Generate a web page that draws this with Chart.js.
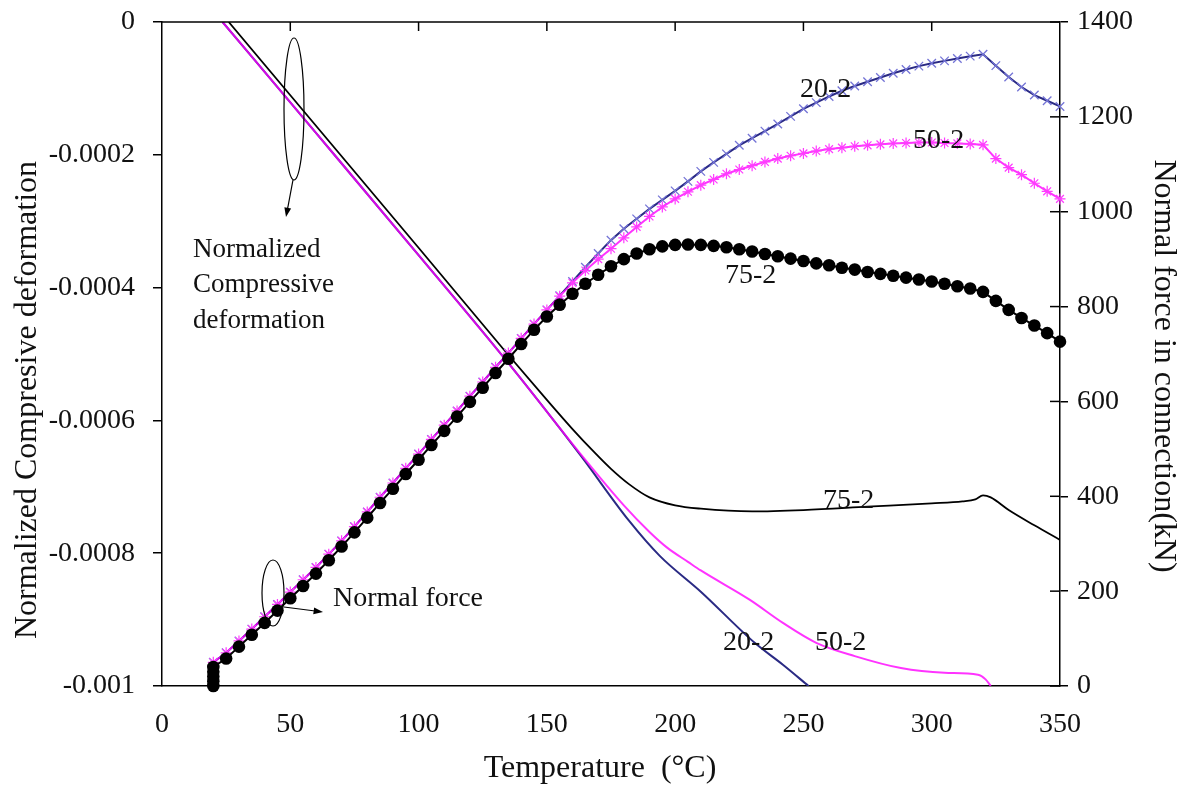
<!DOCTYPE html>
<html>
<head>
<meta charset="utf-8">
<script src="https://cdn.jsdelivr.net/npm/chart.js@4.4.1/dist/chart.umd.min.js"></script>
<style>
  body { margin: 0; background: #fff; }
  canvas { display: block; }
</style>
</head>
<body>
<canvas id="chart" width="1186" height="791"></canvas>
<script>
// temperatures (°C) where the force markers sit
const tempF = [20,25,30,35,40,45,50,55,60,65,70,75,80,85,90,95,100,105,110,115,120,125,130,135,140,145,150,
  155,160,165,170,175,180,185,190,195,200,205,210,215,220,225,230,235,240,245,250,
  255,260,265,270,275,280,285,290,295,300,305,310,315,320,325,330,335,340,345,350];

// normal force in connection (kN), right axis
const force20 = [50,70,95,120,146,172,198,224,250,278,306,336,367,398,428,459,489,520,550,580,611,641,672,702,733,763,793,
  823,853,883,912,940,964,985,1006,1025,1044,1064,1085,1104,1122,1140,1155,1170,1185,1201,1217,
  1230,1243,1255,1265,1274,1283,1292,1300,1307,1313,1318,1323,1328,1332,1308,1284,1263,1246,1234,1222];
const force50 = [50,70,95,120,146,172,198,224,250,278,306,336,367,398,428,459,489,520,550,580,611,641,672,702,733,763,793,
  822,850,876,900,922,945,968,990,1010,1027,1042,1056,1068,1080,1089,1097,1105,1112,1118,1123,
  1128,1132,1135,1138,1140,1142,1144,1145,1146,1146,1145,1144,1143,1141,1112,1093,1078,1060,1043,1027];
const force75 = [40,58,83,108,133,159,185,211,237,265,294,324,355,386,416,447,477,508,538,568,599,629,660,690,721,751,779,
  804,827,848,867,885,900,912,921,927,930,931,930,928,925,921,916,911,906,901,896,
  891,887,882,878,873,869,865,861,857,853,848,843,838,831,812,793,776,760,744,726];
// loading stage of 75-2 at 20 °C
const loadT75 = [20,20,20,20];
const loadF75 = [0,10,20,30];

// normalized compressive deformation, left axis
const defT20 = [23.6,60,100,134,163,182,194,210,231,242,252];
const def20 = [0,-0.000167,-0.000351,-0.000509,-0.000652,-0.000751,-0.000804,-0.000858,-0.000935,-0.000968,-0.001];
const defT50 = [23.6,60,100,134,163,180,190,197,205,210,229,242,255,270,288,305,318,321,323];
const def50 = [0,-0.000167,-0.000351,-0.000509,-0.00065,-0.000728,-0.000768,-0.000792,-0.000813,-0.000826,-0.00087,-0.000905,-0.000935,-0.000955,-0.000973,-0.00098,-0.000983,-0.00099,-0.001];
const defT75 = [26,100,134,150,160,168,175,182,190,200,210,230,250,275,300,312,317,320,323,330,340,350];
const def75 = [0,-0.00034,-0.000497,-0.000569,-0.000613,-0.000646,-0.000673,-0.000696,-0.000716,-0.000728,-0.000733,-0.000737,-0.000735,-0.00073,-0.000725,-0.000722,-0.000719,-0.000713,-0.000716,-0.000735,-0.000758,-0.00078];

const xTicks = [0,50,100,150,200,250,300,350];
const leftTicks = [0,-0.0002,-0.0004,-0.0006,-0.0008,-0.001];
const leftTickLabels = ['0','-0.0002','-0.0004','-0.0006','-0.0008','-0.001'];
const rightTicks = [0,200,400,600,800,1000,1200,1400];

const NAVY = '#2a2a84';
const NAVY_MK = '#7474d6';
const MAG = 'rgba(255,0,255,0.8)';
const MAG_MK = '#ff3cff';
const SERIF = '"Liberation Serif", "Times New Roman", serif';

const pts = (xs, ys) => xs.map((x, i) => ({ x, y: ys[i] }));

const defStyle = (color, order) => ({
  borderColor: color,
  borderWidth: 2,
  pointRadius: 0,
  cubicInterpolationMode: 'monotone',
  yAxisID: 'y',
  order,
});

const datasets = [
  { label: '20-2 deformation', data: pts(defT20, def20), ...defStyle(NAVY, 6) },
  { label: '50-2 deformation', data: pts(defT50, def50), ...defStyle(MAG, 5) },
  { label: '75-2 deformation', data: pts(defT75, def75), ...defStyle('#000', 4), borderWidth: 1.8 },
  {
    label: '20-2 force', data: pts(tempF, force20), yAxisID: 'y2', order: 3,
    borderColor: NAVY, borderWidth: 2, pointStyle: 'crossRot', pointRadius: 6,
    pointBorderColor: NAVY_MK, pointBorderWidth: 1.3, clip: false,
  },
  {
    label: '50-2 force', data: pts(tempF, force50), yAxisID: 'y2', order: 2,
    borderColor: MAG, borderWidth: 2, pointStyle: 'star', pointRadius: 5.5,
    pointBorderColor: MAG_MK, pointBorderWidth: 1.2, clip: false,
  },
  {
    label: '75-2 force', data: pts(loadT75.concat(tempF), loadF75.concat(force75)), yAxisID: 'y2', order: 1,
    borderColor: '#000', borderWidth: 2, pointStyle: 'circle', pointRadius: 6.3,
    pointBackgroundColor: '#000', pointBorderColor: '#000', pointBorderWidth: 0, clip: false,
  },
];

// text labels placed on the chart
const notes = [
  { text: 'Normalized', x: 193, y: 257, size: 27 },
  { text: 'Compressive', x: 193, y: 292, size: 27 },
  { text: 'deformation', x: 193, y: 328, size: 27 },
  { text: 'Normal force', x: 333, y: 606, size: 28 },
  { text: '20-2', x: 800, y: 97, size: 28 },
  { text: '50-2', x: 913, y: 148, size: 28 },
  { text: '75-2', x: 725, y: 283, size: 28 },
  { text: '75-2', x: 823, y: 508, size: 28 },
  { text: '20-2', x: 723, y: 650, size: 28 },
  { text: '50-2', x: 815, y: 650, size: 28 },
];

function arrow(ctx, x1, y1, x2, y2) {
  const ang = Math.atan2(y2 - y1, x2 - x1);
  ctx.beginPath();
  ctx.moveTo(x1, y1);
  ctx.lineTo(x2 - 6 * Math.cos(ang), y2 - 6 * Math.sin(ang));
  ctx.stroke();
  ctx.beginPath();
  ctx.moveTo(x2, y2);
  ctx.lineTo(x2 - 10 * Math.cos(ang - 0.35), y2 - 10 * Math.sin(ang - 0.35));
  ctx.lineTo(x2 - 10 * Math.cos(ang + 0.35), y2 - 10 * Math.sin(ang + 0.35));
  ctx.closePath();
  ctx.fill();
}

const decor = {
  id: 'decor',
  afterDraw(chart) {
    const { ctx, chartArea: a, scales: { x, y2 } } = chart;
    ctx.save();
    ctx.strokeStyle = '#000';
    ctx.fillStyle = '#000';
    ctx.lineWidth = 1.5;
    // top frame and inward ticks
    ctx.beginPath();
    ctx.moveTo(a.left, a.top);
    ctx.lineTo(a.right, a.top);
    ctx.stroke();
    xTicks.forEach(v => {
      if (v <= 0 || v >= 350) return;
      const px = x.getPixelForValue(v);
      ctx.beginPath();
      ctx.moveTo(px, a.top);
      ctx.lineTo(px, a.top + 9);
      ctx.stroke();
    });
    // inner half of the right axis ticks
    rightTicks.forEach(v => {
      const py = y2.getPixelForValue(v);
      ctx.beginPath();
      ctx.moveTo(a.right - 10, py);
      ctx.lineTo(a.right, py);
      ctx.stroke();
    });

    // callouts
    ctx.lineWidth = 1.2;
    ctx.beginPath();
    ctx.ellipse(294, 109, 10, 71, 0, 0, Math.PI * 2);
    ctx.stroke();
    arrow(ctx, 293, 180, 286, 217);
    ctx.beginPath();
    ctx.ellipse(273, 593, 11, 33, 0, 0, Math.PI * 2);
    ctx.stroke();
    arrow(ctx, 284, 607, 323, 612);

    ctx.fillStyle = '#111';
    ctx.textBaseline = 'alphabetic';
    ctx.textAlign = 'left';
    notes.forEach(n => {
      ctx.font = n.size + 'px ' + SERIF;
      ctx.fillText(n.text, n.x, n.y);
    });

    // axis titles
    ctx.font = '32px ' + SERIF;
    ctx.textAlign = 'center';
    ctx.fillText('Temperature  (\u00B0C)', 600, 777);
    ctx.textBaseline = 'middle';
    ctx.save();
    ctx.translate(28, 400);
    ctx.rotate(-Math.PI / 2);
    ctx.fillText('Normalized Compresive deformation', 0, 0);
    ctx.restore();
    ctx.save();
    ctx.translate(1163, 366);
    ctx.rotate(Math.PI / 2);
    ctx.fillText('Normal force in connection(kN)', 0, 0);
    ctx.restore();
    ctx.restore();
  },
};

const tickFont = { family: SERIF, size: 28 };

// y axes: fixed width and no extra room for the end labels
const fitY = w => s => {
  s.width = w;
  s.paddingTop = 0;
  s.paddingBottom = 0;
};

new Chart(document.getElementById('chart'), {
  type: 'line',
  data: { datasets },
  options: {
    responsive: false,
    animation: false,
    devicePixelRatio: 1,
    layout: { padding: { top: 22, left: 0, right: 0, bottom: 0 } },
    plugins: { legend: { display: false }, tooltip: { enabled: false } },
    scales: {
      x: {
        type: 'linear',
        min: 0, max: 350,
        afterBuildTicks: s => { s.ticks = xTicks.map(v => ({ value: v })); },
        afterFit: s => { s.height = 105; s.paddingLeft = 0; s.paddingRight = 0; },
        grid: { display: false },
        border: { display: true, color: '#000', width: 1.5 },
        ticks: { color: '#111', font: tickFont, padding: 14, maxRotation: 0 },
      },
      y: {
        position: 'left',
        min: -0.001, max: 0,
        afterBuildTicks: s => { s.ticks = leftTicks.map(v => ({ value: v })); },
        afterFit: fitY(162),
        grid: { drawOnChartArea: false, drawTicks: true, tickLength: 9, color: '#000', lineWidth: 1.5 },
        border: { display: true, color: '#000', width: 1.5 },
        ticks: {
          color: '#111', font: tickFont, padding: 18,
          callback: v => leftTickLabels[leftTicks.findIndex(t => Math.abs(t - v) < 1e-9)],
        },
      },
      y2: {
        position: 'right',
        min: 0, max: 1400,
        afterBuildTicks: s => { s.ticks = rightTicks.map(v => ({ value: v })); },
        afterFit: fitY(126),
        grid: { drawOnChartArea: false, drawTicks: true, tickLength: 8, color: '#000', lineWidth: 1.5 },
        border: { display: true, color: '#000', width: 1.5 },
        ticks: { color: '#111', font: tickFont, padding: 9, callback: v => String(v) },
      },
    },
  },
  plugins: [decor],
});
</script>
</body>
</html>
